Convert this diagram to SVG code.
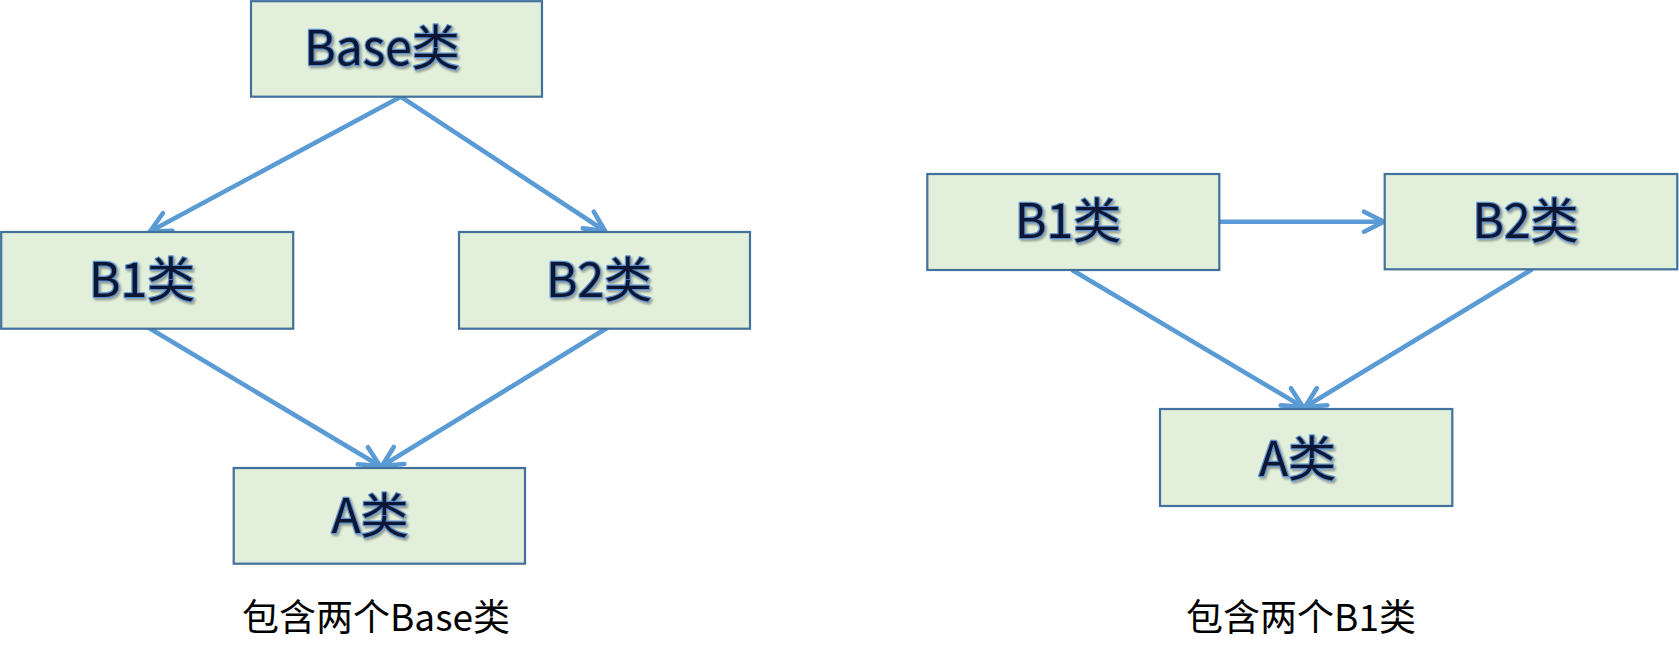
<svg xmlns="http://www.w3.org/2000/svg" width="1679" height="649" viewBox="0 0 1679 649">
<style>
.box{fill:#e2efda;stroke:#41719c;stroke-width:2.2}
.lbl{font-family:"Noto Sans CJK SC","Noto Sans",sans-serif;font-size:48px;text-anchor:middle;fill:#0d1730;stroke:#5b8fd0;stroke-width:2.4px;paint-order:stroke fill;stroke-linejoin:round;filter:url(#sh)}
.cap{font-family:"Noto Sans CJK SC","Noto Sans",sans-serif;font-size:37px;text-anchor:middle;fill:#000}
.edge{stroke:#5b9bd5;stroke-width:4.6;fill:none;stroke-linecap:round;marker-end:url(#arr)}
</style>
<defs>
<filter id="sh" x="-20%" y="-30%" width="140%" height="160%">
<feDropShadow dx="1.5" dy="2" stdDeviation="1.2" flood-color="#000" flood-opacity="0.35"/>
</filter>
<marker id="arr" markerUnits="userSpaceOnUse" orient="auto" refX="0" refY="0" markerWidth="30" markerHeight="30" viewBox="-25 -15 30 30" overflow="visible">
<path d="M -20 -10 L 0 0 L -20 10" fill="none" stroke="#5b9bd5" stroke-width="4.6" stroke-linecap="round" stroke-linejoin="round"/>
</marker>
</defs>
<rect width="1679" height="649" fill="#fff"/>
<g id="connectors">
<line class="edge" x1="400.7" y1="96.7" x2="150" y2="231.5"/>
<line class="edge" x1="400.7" y1="96.7" x2="605" y2="231"/>
<line class="edge" x1="149" y1="328" x2="380" y2="466"/>
<line class="edge" x1="607" y1="328" x2="382" y2="466"/>
<line class="edge" x1="1219" y1="221.7" x2="1384" y2="221.7"/>
<line class="edge" x1="1073" y1="270.5" x2="1303" y2="407"/>
<line class="edge" x1="1531" y1="270" x2="1305" y2="407"/>
</g>
<g id="base">
<rect class="box" x="251" y="1.2" width="291" height="95.5"/>
<text class="lbl" x="382" y="65">Base类</text>
</g>
<g id="b1-left">
<rect class="box" x="1.2" y="232" width="292" height="96.7"/>
<text class="lbl" x="142" y="297">B1类</text>
</g>
<g id="b2-left">
<rect class="box" x="459" y="232" width="291" height="96.7"/>
<text class="lbl" x="599" y="297">B2类</text>
</g>
<g id="a-left">
<rect class="box" x="233.7" y="468" width="291.3" height="95.7"/>
<text class="lbl" x="370" y="533">A类</text>
</g>
<g id="caption-left">
<text class="cap" x="376" y="631">包含两个Base类</text>
</g>
<g id="b1-right">
<rect class="box" x="927.3" y="174" width="292" height="96"/>
<text class="lbl" x="1068" y="238">B1类</text>
</g>
<g id="b2-right">
<rect class="box" x="1384.7" y="174" width="292.6" height="95.3"/>
<text class="lbl" x="1525.5" y="238">B2类</text>
</g>
<g id="a-right">
<rect class="box" x="1160" y="409" width="292.3" height="97"/>
<text class="lbl" x="1297.5" y="476">A类</text>
</g>
<g id="caption-right">
<text class="cap" x="1301" y="631">包含两个B1类</text>
</g>
</svg>
